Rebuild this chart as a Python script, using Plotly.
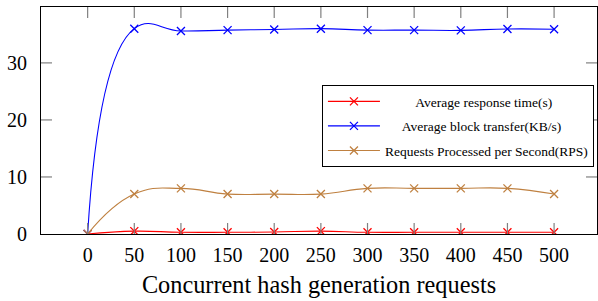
import plotly.graph_objects as go

x_requests = [0, 50, 100, 150, 200, 250, 300, 350, 400, 450, 500]
response_time = [0, 0.5, 0.3, 0.3, 0.35, 0.5, 0.3, 0.3, 0.3, 0.3, 0.3]
block_transfer = [0, 36.0, 35.6, 35.75, 35.85, 36.0, 35.75, 35.75, 35.7, 35.95, 35.9]
rps = [0, 7, 8, 7, 7, 7, 8, 8, 8, 8, 7]
x_ticks = [0, 50, 100, 150, 200, 250, 300, 350, 400, 450, 500]
y_ticks = [0, 10, 20, 30]

names = ["Average response time(s)", "Average block transfer(KB/s)",
         "Requests Processed per Second(RPS)"]
colors = ["#FF0000", "#0000FF", "#BF8040"]
series = [response_time, block_transfer, rps]

FONT = "Liberation Serif"
NB = "\u00a0"
pads = [9, 5, 0]
TICK_COLOR = "#808080"
W, H = 598, 301
ML, MR, MT, MB = 41, 1, 7, 67
TL = 11  # tick length in px
fx = TL / (W - ML - MR)
fy = TL / (H - MT - MB)

fig = go.Figure()
for i, (nm, c, ys) in enumerate(zip(names, colors, series)):
    fig.add_trace(go.Scatter(
        x=x_requests, y=ys, name=NB * pads[i] + nm, mode="lines+markers",
        line=dict(color=c, width=1.1, shape="spline", smoothing=1.3),
        marker=dict(symbol="x-thin", size=8, line=dict(color=c, width=1.3)),
        legendgroup=f"g{i}",
    ))

# inward mirrored tick marks, placed at the tick values via the axes
for v in x_ticks:
    for y0, y1 in ((0, fy), (1 - fy, 1)):
        fig.add_shape(type="line", xref="x", yref="y domain", x0=v, x1=v,
                      y0=y0, y1=y1, layer="above",
                      line=dict(color=TICK_COLOR, width=1.2))
for v in y_ticks:
    if v == 0:
        continue
    for x0, x1 in ((0, fx), (1 - fx, 1)):
        fig.add_shape(type="line", xref="x domain", yref="y", x0=x0, x1=x1,
                      y0=v, y1=v, layer="above",
                      line=dict(color=TICK_COLOR, width=1.2))

fig.update_layout(
    width=W, height=H,
    margin=dict(l=ML, r=MR, t=MT, b=MB, autoexpand=False),
    paper_bgcolor="white", plot_bgcolor="rgba(0,0,0,0)",
    font=dict(family=FONT, color="black"),
    showlegend=True,
    legend=dict(
        x=0.9945, y=0.656, xanchor="right", yanchor="top",
        bordercolor="black", borderwidth=1, bgcolor="white",
        font=dict(family=FONT, size=13.5, color="black"),
        traceorder="grouped", tracegroupgap=4, itemwidth=52,
    ),
)
fig.update_xaxes(
    range=[-50, 546], tickmode="array", tickvals=x_ticks,
    ticktext=[str(v) for v in x_ticks], ticks="", ticklabelstandoff=3,
    showline=True, linecolor="black", linewidth=1, mirror=True,
    showgrid=False, zeroline=False, automargin=False,
    tickfont=dict(family=FONT, size=20),
    title=dict(text="Concurrent hash generation requests",
               font=dict(family=FONT, size=24.3), standoff=10),
)
fig.update_yaxes(
    range=[0, 39.8], tickmode="array", tickvals=y_ticks,
    ticktext=[str(v) for v in y_ticks], ticks="", ticklabelstandoff=9,
    showline=True, linecolor="black", linewidth=1, mirror=True,
    showgrid=False, zeroline=False, automargin=False,
    tickfont=dict(family=FONT, size=20),
)
fig.write_html("out.html", post_script="document.body.style.margin='0';",
               config={"displayModeBar": False})
